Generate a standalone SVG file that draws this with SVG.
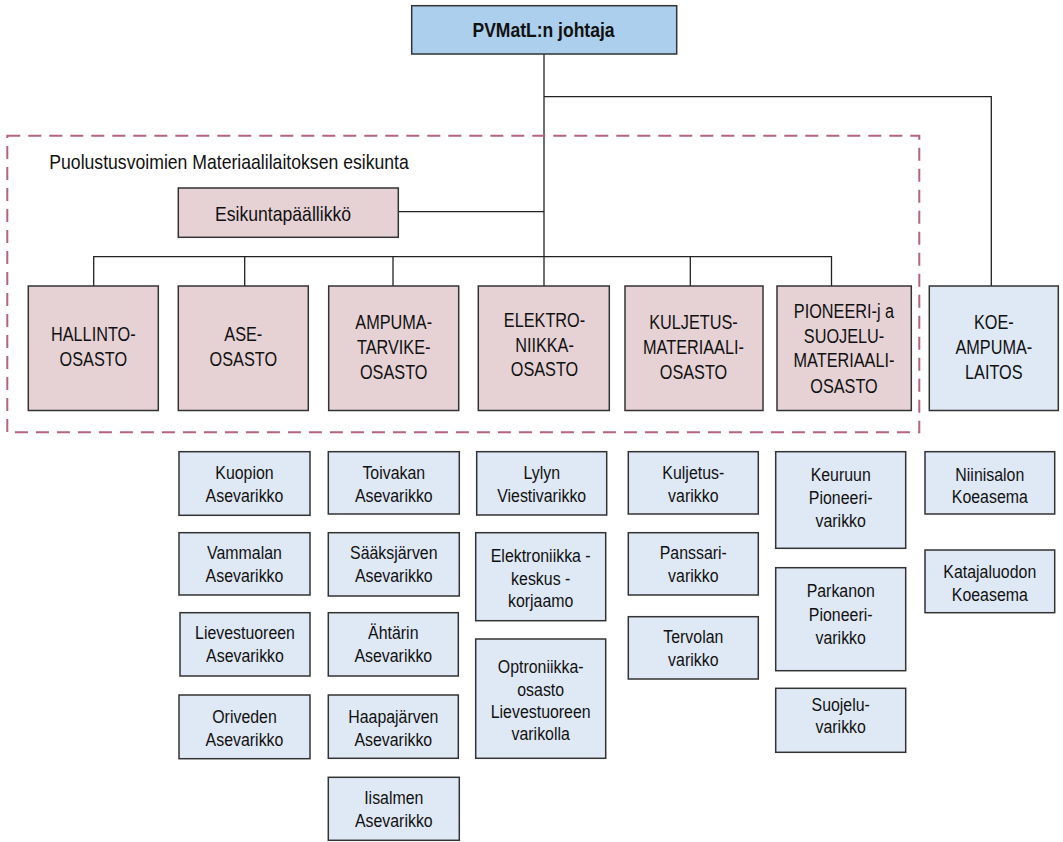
<svg xmlns="http://www.w3.org/2000/svg" width="1063" height="842" viewBox="0 0 1063 842">
<style>
.bx{stroke:#333;stroke-width:1.5}
.top{fill:#abcfec}
.dept{fill:#e6d2d5}
.sub{fill:#dfe8f5}
.conn path{fill:none;stroke:#222;stroke-width:1.3}
.frame{fill:none;stroke:#b5647e;stroke-width:2;stroke-dasharray:13 8}
text{font-family:"Liberation Sans",Arial,sans-serif;fill:#111;text-anchor:middle}
.fd{font-size:21px}
.fs{font-size:18.5px}
.fb{font-size:21px;font-weight:bold}
.fl{font-size:20.5px}
.st{text-anchor:start}
</style>
<rect width="1063" height="842" fill="#ffffff"/>
<g id="connectors" class="conn">
<path d="M544 54 V256.7"/>
<path d="M544 96.7 H991.3 V286"/>
<path d="M398.3 211.7 H544"/>
<path d="M93.7 286 V256.7 H831.5 V286"/>
<path d="M244.7 256.7 V286"/>
<path d="M393 256.7 V286"/>
<path d="M544 256.7 V286"/>
<path d="M690.3 256.7 V286"/>
</g>
<g id="esikunta-frame">
<rect class="frame" x="7.3" y="135.7" width="912" height="296.6"/>
<text class="fl st" transform="translate(49.3 0) scale(0.86 1)" x="0" y="169">Puolustusvoimien Materiaalilaitoksen esikunta</text>
</g>
<g id="n-johtaja">
<rect class="bx top" x="411.7" y="5.7" width="265" height="48.3"/>
<text class="fb" transform="translate(543.5 0) scale(0.835 1)" x="0" y="37.3">PVMatL:n johtaja</text>
</g>
<g id="n-esikuntapaallikko">
<rect class="bx dept" x="178.3" y="188" width="220" height="49.3"/>
<text class="fl" transform="translate(283 0) scale(0.86 1)" x="0" y="221">Esikuntapäällikkö</text>
</g>
<g id="n-hallinto">
<rect class="bx dept" x="28.3" y="286" width="130" height="124.5"/>
<text class="fd" transform="translate(93.3 0) scale(0.775 1)"><tspan x="0" y="340.7">HALLINTO-</tspan><tspan x="0" y="365.7">OSASTO</tspan></text>
</g>
<g id="n-ase">
<rect class="bx dept" x="178.3" y="286" width="130" height="124.5"/>
<text class="fd" transform="translate(243.3 0) scale(0.775 1)"><tspan x="0" y="341.5">ASE-</tspan><tspan x="0" y="366.5">OSASTO</tspan></text>
</g>
<g id="n-ampuma">
<rect class="bx dept" x="328.7" y="286" width="130" height="124.5"/>
<text class="fd" transform="translate(393.7 0) scale(0.775 1)"><tspan x="0" y="329">AMPUMA-</tspan><tspan x="0" y="354">TARVIKE-</tspan><tspan x="0" y="379">OSASTO</tspan></text>
</g>
<g id="n-elektro">
<rect class="bx dept" x="478.3" y="286" width="131" height="124.5"/>
<text class="fd" transform="translate(544.5 0) scale(0.775 1)"><tspan x="0" y="327">ELEKTRO-</tspan><tspan x="0" y="352">NIIKKA-</tspan><tspan x="0" y="376.5">OSASTO</tspan></text>
</g>
<g id="n-kuljetus">
<rect class="bx dept" x="625" y="286" width="138" height="124.5"/>
<text class="fd" transform="translate(693.5 0) scale(0.775 1)"><tspan x="0" y="329">KULJETUS-</tspan><tspan x="0" y="354">MATERIAALI-</tspan><tspan x="0" y="379">OSASTO</tspan></text>
</g>
<g id="n-pioneeri">
<rect class="bx dept" x="777" y="286" width="134.3" height="124.5"/>
<text class="fd" transform="translate(844 0) scale(0.775 1)"><tspan x="0" y="318.3">PIONEERI-j a</tspan><tspan x="0" y="342.7">SUOJELU-</tspan><tspan x="0" y="367.5">MATERIAALI-</tspan><tspan x="0" y="393">OSASTO</tspan></text>
</g>
<g id="n-koe">
<rect class="bx sub" x="929.3" y="286" width="129" height="124.5"/>
<text class="fd" transform="translate(993.8 0) scale(0.775 1)"><tspan x="0" y="329">KOE-</tspan><tspan x="0" y="354">AMPUMA-</tspan><tspan x="0" y="379">LAITOS</tspan></text>
</g>
<g id="n-kuopion">
<rect class="bx sub" x="179" y="451.7" width="131" height="63.6"/>
<text class="fs" transform="translate(244.5 0) scale(0.86 1)"><tspan x="0" y="479.3">Kuopion</tspan><tspan x="0" y="502">Asevarikko</tspan></text>
</g>
<g id="n-vammalan">
<rect class="bx sub" x="179" y="532.7" width="131" height="62.3"/>
<text class="fs" transform="translate(244.5 0) scale(0.86 1)"><tspan x="0" y="559">Vammalan</tspan><tspan x="0" y="582.3">Asevarikko</tspan></text>
</g>
<g id="n-lievestuoreen">
<rect class="bx sub" x="180" y="612.7" width="130" height="63.3"/>
<text class="fs" transform="translate(245 0) scale(0.86 1)"><tspan x="0" y="639.3">Lievestuoreen</tspan><tspan x="0" y="661.7">Asevarikko</tspan></text>
</g>
<g id="n-oriveden">
<rect class="bx sub" x="179" y="695" width="131" height="63.7"/>
<text class="fs" transform="translate(244.5 0) scale(0.86 1)"><tspan x="0" y="722.7">Oriveden</tspan><tspan x="0" y="745.7">Asevarikko</tspan></text>
</g>
<g id="n-toivakan">
<rect class="bx sub" x="328.3" y="451.7" width="131" height="62.3"/>
<text class="fs" transform="translate(393.8 0) scale(0.86 1)"><tspan x="0" y="479.3">Toivakan</tspan><tspan x="0" y="502">Asevarikko</tspan></text>
</g>
<g id="n-saaksjarven">
<rect class="bx sub" x="328.3" y="532.7" width="131" height="63.3"/>
<text class="fs" transform="translate(393.8 0) scale(0.86 1)"><tspan x="0" y="559">Sääksjärven</tspan><tspan x="0" y="582.3">Asevarikko</tspan></text>
</g>
<g id="n-ahtarin">
<rect class="bx sub" x="328.3" y="612.7" width="130" height="63.3"/>
<text class="fs" transform="translate(393.3 0) scale(0.86 1)"><tspan x="0" y="639.3">Ähtärin</tspan><tspan x="0" y="661.7">Asevarikko</tspan></text>
</g>
<g id="n-haapajarven">
<rect class="bx sub" x="328.3" y="695" width="130" height="63.3"/>
<text class="fs" transform="translate(393.3 0) scale(0.86 1)"><tspan x="0" y="722.7">Haapajärven</tspan><tspan x="0" y="745.7">Asevarikko</tspan></text>
</g>
<g id="n-iisalmen">
<rect class="bx sub" x="328.3" y="777.3" width="131" height="63"/>
<text class="fs" transform="translate(393.8 0) scale(0.86 1)"><tspan x="0" y="804">Iisalmen</tspan><tspan x="0" y="826.7">Asevarikko</tspan></text>
</g>
<g id="n-lylyn">
<rect class="bx sub" x="476.7" y="451.7" width="130" height="63.3"/>
<text class="fs" transform="translate(541.7 0) scale(0.86 1)"><tspan x="0" y="479.5">Lylyn</tspan><tspan x="0" y="502.3">Viestivarikko</tspan></text>
</g>
<g id="n-elektroniikka">
<rect class="bx sub" x="475.7" y="532.7" width="130" height="88"/>
<text class="fs" transform="translate(540.7 0) scale(0.86 1)"><tspan x="0" y="562.3">Elektroniikka -</tspan><tspan x="0" y="585">keskus -</tspan><tspan x="0" y="607">korjaamo</tspan></text>
</g>
<g id="n-optroniikka">
<rect class="bx sub" x="475.7" y="639" width="130" height="119.3"/>
<text class="fs" transform="translate(540.7 0) scale(0.86 1)"><tspan x="0" y="673.3">Optroniikka-</tspan><tspan x="0" y="696">osasto</tspan><tspan x="0" y="718.3">Lievestuoreen</tspan><tspan x="0" y="740">varikolla</tspan></text>
</g>
<g id="n-kuljetusvarikko">
<rect class="bx sub" x="628.3" y="451.7" width="130" height="62.3"/>
<text class="fs" transform="translate(693.3 0) scale(0.86 1)"><tspan x="0" y="479.3">Kuljetus-</tspan><tspan x="0" y="501.7">varikko</tspan></text>
</g>
<g id="n-panssari">
<rect class="bx sub" x="628.3" y="532.7" width="130" height="62.3"/>
<text class="fs" transform="translate(693.3 0) scale(0.86 1)"><tspan x="0" y="559.3">Panssari-</tspan><tspan x="0" y="581.7">varikko</tspan></text>
</g>
<g id="n-tervolan">
<rect class="bx sub" x="628.3" y="616.7" width="130" height="62.3"/>
<text class="fs" transform="translate(693.3 0) scale(0.86 1)"><tspan x="0" y="643.5">Tervolan</tspan><tspan x="0" y="666">varikko</tspan></text>
</g>
<g id="n-keuruun">
<rect class="bx sub" x="775.7" y="451.7" width="130" height="96.6"/>
<text class="fs" transform="translate(840.7 0) scale(0.86 1)"><tspan x="0" y="480.7">Keuruun</tspan><tspan x="0" y="504">Pioneeri-</tspan><tspan x="0" y="527.3">varikko</tspan></text>
</g>
<g id="n-parkanon">
<rect class="bx sub" x="775.7" y="567.7" width="130" height="103"/>
<text class="fs" transform="translate(840.7 0) scale(0.86 1)"><tspan x="0" y="597.3">Parkanon</tspan><tspan x="0" y="621">Pioneeri-</tspan><tspan x="0" y="644">varikko</tspan></text>
</g>
<g id="n-suojelu">
<rect class="bx sub" x="775.7" y="688.3" width="130" height="64"/>
<text class="fs" transform="translate(840.7 0) scale(0.86 1)"><tspan x="0" y="710.7">Suojelu-</tspan><tspan x="0" y="733.5">varikko</tspan></text>
</g>
<g id="n-niinisalon">
<rect class="bx sub" x="925" y="451.7" width="129.7" height="62.3"/>
<text class="fs" transform="translate(989.8 0) scale(0.86 1)"><tspan x="0" y="481">Niinisalon</tspan><tspan x="0" y="503.3">Koeasema</tspan></text>
</g>
<g id="n-katajaluodon">
<rect class="bx sub" x="925" y="550" width="129.7" height="62.7"/>
<text class="fs" transform="translate(989.8 0) scale(0.86 1)"><tspan x="0" y="578.3">Katajaluodon</tspan><tspan x="0" y="601">Koeasema</tspan></text>
</g>
</svg>
